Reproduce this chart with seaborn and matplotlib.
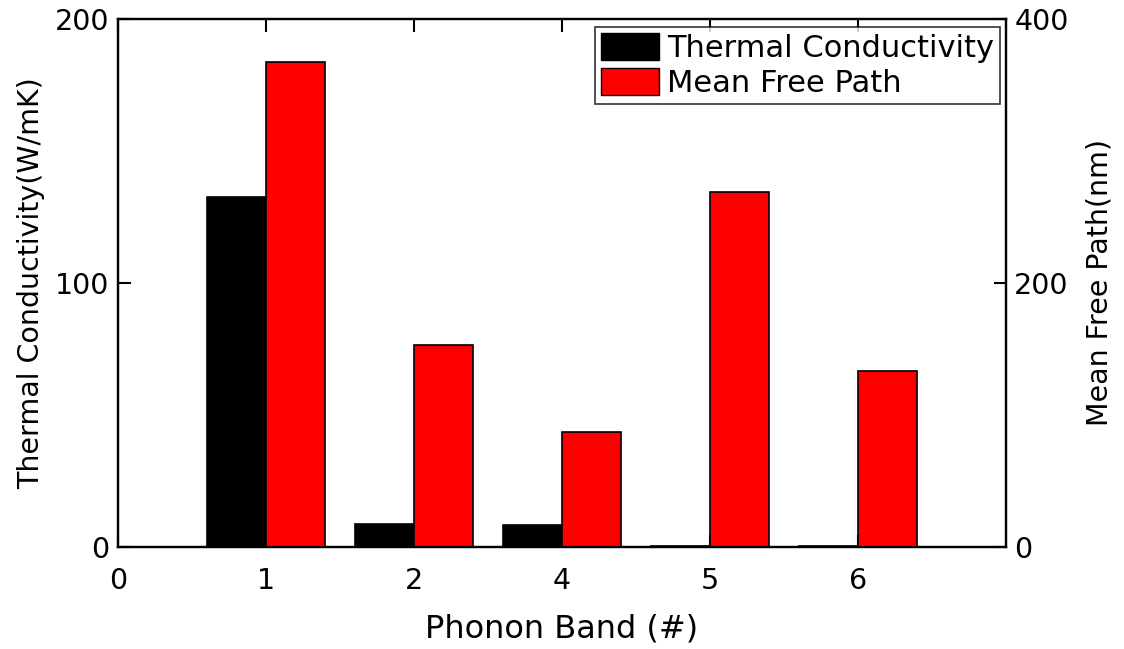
import numpy as np
import pandas as pd
import matplotlib
matplotlib.use("Agg")
import matplotlib.pyplot as plt
import seaborn as sns
from matplotlib.patches import Patch

sns.set_theme(style="white")
plt.rcParams['font.family'] = ['DejaVu Sans']
plt.rcParams['text.color'] = 'black'
plt.rcParams['axes.labelcolor'] = 'black'

bands = ["1", "2", "4", "5", "6"]
tick_labels = ["0", "1", "2", "4", "5", "6"]
thermal_conductivity = [132.5, 8.7, 8.3, 0.5, 0.6]
mean_free_path = [367, 153, 87, 269, 133]

pos = np.arange(1, len(bands) + 1)
df_k = pd.DataFrame({"x": pos - 0.2, "v": thermal_conductivity})
df_m = pd.DataFrame({"x": pos + 0.2, "v": mean_free_path})

fig = plt.figure(figsize=(11.24, 6.49), dpi=100)
ax = fig.add_axes([0.105, 0.157, 0.79, 0.814])
ax2 = ax.twinx()

sns.barplot(data=df_k, x="x", y="v", native_scale=True, width=0.4,
            color="black", edgecolor="black", linewidth=1.2, saturation=1,
            ax=ax, errorbar=None)
sns.barplot(data=df_m, x="x", y="v", native_scale=True, width=0.4,
            color="#ff0000", edgecolor="black", linewidth=1.2, saturation=1,
            ax=ax2, errorbar=None)

ax.set_xlim(0, 6)
ax.set_ylim(0, 200)
ax2.set_ylim(0, 400)
ax.set_xticks(np.arange(0, 6))
ax.set_xticklabels(tick_labels)
ax.set_yticks([0, 100, 200])
ax2.set_yticks([0, 200, 400])

ax.set_xlabel("Phonon Band (#)", fontsize=23, labelpad=14, color="black")
ax.set_ylabel("Thermal Conductivity(W/mK)", fontsize=20.5, labelpad=7, color="black")
ax2.set_ylabel("Mean Free Path(nm)", fontsize=20.5, labelpad=12, color="black")
ax2.set_xlabel("")

for a in (ax, ax2):
    for s in a.spines.values():
        s.set_visible(True)
        s.set_color("black")
        s.set_linewidth(1.6)
ax.tick_params(axis="x", direction="in", length=9, width=1.5, labelsize=20.5,
               top=True, bottom=True, pad=14, colors="black")
ax.tick_params(axis="y", direction="in", length=9, width=1.5, labelsize=20.5,
               left=True, right=False, pad=6, colors="black")
ax2.tick_params(axis="y", direction="in", length=9, width=1.5, labelsize=20.5,
                right=True, left=False, pad=6, colors="black")

handles = [Patch(facecolor="black", edgecolor="black", label="Thermal Conductivity"),
           Patch(facecolor="#ff0000", edgecolor="black", label="Mean Free Path")]
leg = ax2.legend(handles=handles, loc="upper right", bbox_to_anchor=(0.993, 0.985),
                 fontsize=22, frameon=True, fancybox=False, handlelength=1.9,
                 handleheight=1.0, handletextpad=0.25, borderpad=0.2,
                 labelspacing=0.15, borderaxespad=0, labelcolor="black")
leg.get_frame().set_edgecolor("black")
leg.get_frame().set_linewidth(1.2)

fig.savefig("out.png", dpi=100)
